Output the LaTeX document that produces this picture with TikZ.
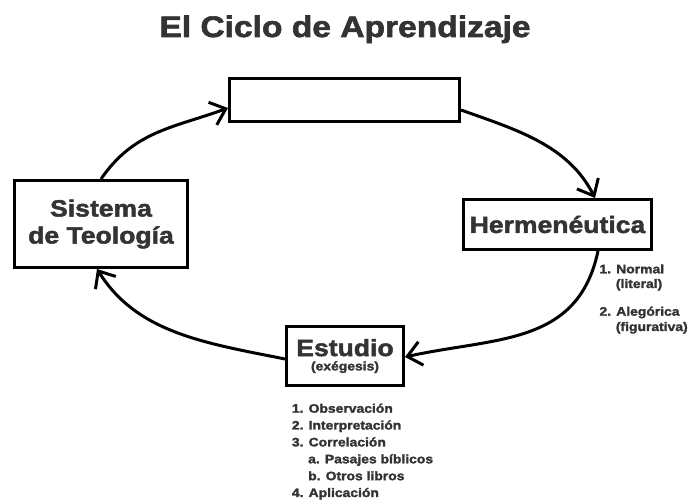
\documentclass[tikz,border=0pt]{standalone}
\usepackage{fontspec}
\setmainfont{Liberation Sans}[FakeStretch=1.13,FakeBold=2]
\usetikzlibrary{arrows.meta,calc}
\definecolor{txt}{HTML}{333333}
\begin{document}
\begin{tikzpicture}[x=1pt,y=-1pt,
  box/.style={draw=black,line width=3pt,fill=white,inner sep=0pt,align=center,text=txt},
  conn/.style={line width=3pt,-{Straight Barb[length=14pt,width=24pt]}},
  lbl/.style={text=txt,inner sep=0pt,anchor=base west,font=\fontsize{12.3}{14}\selectfont\bfseries}]
\useasboundingbox (0,0) rectangle (689,502);
\node[anchor=base,text=txt,inner sep=0pt,font=\fontsize{29.7}{34}\selectfont\bfseries] (title) at (345,37) {El Ciclo de Aprendizaje};
\node[box,minimum width=230pt,minimum height=43pt] (top) at (344.5,100) {};
\node[box,minimum width=173pt,minimum height=87pt,font=\fontsize{23.5}{27}\selectfont\bfseries] (sis) at (101,224) {Sistema\\de Teología};
\node[box,minimum width=188pt,minimum height=50pt,font=\fontsize{23.5}{27}\selectfont\bfseries] (herm) at (557.5,224.5) {Hermenéutica};
\node[box,minimum width=117pt,minimum height=59pt,font=\fontsize{12.3}{14.3}\selectfont\bfseries] (est) at (345,356) {{\fontsize{23.5}{14.3}\selectfont Estudio}\\(exégesis)};
% lists
\node[lbl] (e1) at (291.7,412.7) {1. Observación};
\node[lbl] (e2) at (291.7,429.5) {2. Interpretación};
\node[lbl] (e3) at (291.7,446.4) {3. Correlación};
\node[lbl] (e4) at (308,463.3) {a. Pasajes bíblicos};
\node[lbl] (e5) at (308,480.2) {b. Otros libros};
\node[lbl] (e6) at (291.7,497) {4. Aplicación};
\node[lbl] (h1) at (599.3,273.3) {1. Normal};
\node[lbl] (h2) at (615.7,288) {(literal)};
\node[lbl] (h3) at (599.3,315.7) {2. Alegórica};
\node[lbl] (h4) at (615.7,331) {(figurativa)};
% connectors
\draw[conn] (sis.north) .. controls +(33,-48) and +(-55,20) .. ($(top.west)+(0,8)$);
\draw[conn] ($(top.east)+(0,10)$) .. controls +(56,20) and +(-27,-53) .. ($(herm.north)+(37.5,0)$);
\draw[conn] ($(herm.south)+(40.5,0)$) .. controls +(-20,95) and +(90,-20) .. ($(est.east)+(0,1)$);
\draw[conn] ($(est.west)+(0,3)$) .. controls +(-80,-16) and +(40,64) .. ($(sis.south)+(-4,0)$);
\end{tikzpicture}
\end{document}
